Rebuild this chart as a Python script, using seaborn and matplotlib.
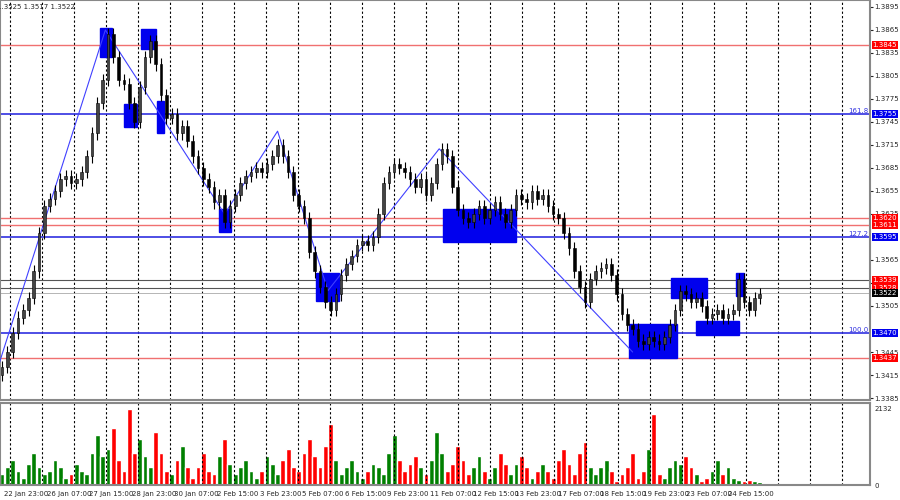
import matplotlib
matplotlib.use("Agg")
import matplotlib.pyplot as plt
import seaborn as sns
import numpy as np
import pandas as pd

# closes in pips above 1.3400, one per 4h candle
close_pips = [25, 45, 70, 90, 100, 115, 150, 200, 235, 245, 255, 270, 275, 265, 270, 280,
              300, 330, 370, 400, 460, 430, 400, 395, 370, 345, 390, 430, 450, 420, 380, 350,
              355, 330, 340, 320, 300, 285, 270, 260, 240, 250, 215, 235, 250, 265, 275, 280,
              285, 280, 290, 300, 315, 300, 280, 250, 235, 220, 175, 150, 130, 110, 100, 120,
              145, 160, 170, 185, 190, 185, 195, 225, 265, 280, 290, 285, 280, 270, 260, 270,
              250, 265, 290, 310, 300, 260, 230, 220, 215, 225, 235, 220, 230, 240, 225, 215,
              230, 250, 245, 240, 255, 245, 250, 235, 225, 220, 200, 180, 150, 130, 110, 140,
              150, 155, 160, 145, 120, 95, 80, 75, 60, 55, 65, 60, 55, 65, 80, 100,
              125, 120, 110, 115, 105, 90, 95, 100, 90, 95, 100, 140, 110, 100, 115, 120]
volumes = [300, 500, 700, 400, 200, 600, 900, 500, 300, 400, 700, 500, 200, 300, 600, 400,
           300, 900, 1400, 800, 1000, 1600, 700, 400, 2132, 900, 1300, 800, 500, 1500, 900, 400,
           300, 700, 1100, 500, 200, 500, 900, 400, 300, 800, 1300, 600, 300, 500, 700, 400,
           200, 400, 800, 600, 300, 700, 1000, 500, 400, 900, 1300, 800, 500, 1100, 1700, 700,
           300, 500, 700, 400, 200, 400, 600, 500, 300, 900, 1400, 700, 400, 600, 800, 500,
           300, 700, 1500, 900, 400, 600, 1100, 700, 300, 500, 800, 400, 200, 500, 900, 600,
           300, 600, 800, 500, 200, 400, 600, 400, 200, 700, 1000, 600, 300, 900, 1200, 500,
           300, 500, 700, 400, 100, 300, 500, 900, 200, 400, 1000, 2000, 300, 200, 500, 700,
           600, 800, 500, 300, 100, 200, 400, 700, 300, 500, 200, 150, 100, 150, 100, 80]
date_labels = ["22 Jan 23:00", "26 Jan 07:00", "27 Jan 15:00", "28 Jan 23:00", "30 Jan 07:00",
               "2 Feb 15:00", "3 Feb 23:00", "5 Feb 07:00", "6 Feb 15:00", "9 Feb 23:00",
               "11 Feb 07:00", "12 Feb 15:00", "13 Feb 23:00", "17 Feb 07:00", "18 Feb 15:00",
               "19 Feb 23:00", "23 Feb 07:00", "24 Feb 15:00"]
blue_levels = [1.3755, 1.3595, 1.3470]
blue_names = ["161.8", "127.2", "100.0"]
red_levels = [1.3845, 1.3620, 1.3611, 1.3437]
dark_levels = [1.3539, 1.3528]
last_price = 1.3522
price_ticks = [1.3895, 1.3865, 1.3835, 1.3805, 1.3775, 1.3745, 1.3715, 1.3685, 1.3655,
               1.3625, 1.3565, 1.3535, 1.3505, 1.3445, 1.3415, 1.3385]
# zigzag: (candle index, price)
zig_idx = [-1, 19.5, 42, 52, 61.5, 82.5, 119]
zig_price = [1.3420, 1.3865, 1.3625, 1.3733, 1.3525, 1.3710, 1.3445]
# blue zones: (i0, i1, p_low, p_high)
boxes = [(18.5, 20.8, 1.3830, 1.3867), (26.3, 29, 1.3840, 1.3866), (23, 25.5, 1.3738, 1.3768),
         (29.2, 30.5, 1.3730, 1.3772), (41, 43.2, 1.3601, 1.3632), (59.3, 63.5, 1.3512, 1.3548),
         (83.3, 97, 1.3589, 1.3632), (118.3, 127.3, 1.3437, 1.3482), (126.3, 133, 1.3515, 1.3541),
         (131, 139, 1.3467, 1.3485), (138.5, 140, 1.3518, 1.3548)]

closes = 1.34 + np.array(close_pips) / 10000
opens = np.r_[closes[0] - 0.0010, closes[:-1]]
highs = np.maximum(opens, closes) + 0.0008
lows = np.minimum(opens, closes) - 0.0008
n = len(closes)
idx = np.arange(n)
df = pd.DataFrame({"i": idx, "o": opens, "c": closes, "h": highs, "l": lows, "v": volumes})

sns.set_style("white")
fig = plt.figure(figsize=(9, 5), dpi=100)
ax = fig.add_axes([0, 0.2, 0.9667, 0.8])
axv = fig.add_axes([0, 0.03, 0.9667, 0.164])
xl = (-0.38, 163.8)
for a in (ax, axv):
    a.set_xlim(*xl)
    for gx in np.arange(10, 870, 32):
        a.axvline(gx / 5.3 - 0.38, color="black", ls=(0, (2, 2)), lw=0.8)
    for s in a.spines.values():
        s.set_color("#888888")
        s.set_linewidth(1.5)
ax.set_ylim(1.33824, 1.39041)

for lv in red_levels:
    ax.axhline(lv, color="#f07070", lw=1)
for lv in dark_levels:
    ax.axhline(lv, color="#555555", lw=0.8)
ax.axhline(last_price, color="#aaaaaa", lw=0.6)
for lv, nm in zip(blue_levels, blue_names):
    ax.axhline(lv, color="#3030e0", lw=1.2)
    ax.text(163.5, lv, nm, color="#3030e0", fontsize=5, ha="right", va="bottom")

for (i0, i1, p0, p1) in boxes:
    ax.add_patch(plt.Rectangle((i0, p0), i1 - i0, p1 - p0, color="#0000ee", zorder=2))

sns.lineplot(x=zig_idx, y=zig_price, ax=ax, color="#4040ff", lw=0.8, sort=False, zorder=3)

ax.vlines(df.i, df.l, df.h, color="black", lw=0.8, zorder=4)
up = df.c >= df.o
ax.bar(df.i[up], (df.c - df.o)[up], bottom=df.o[up], width=0.5, color="#444444",
       edgecolor="black", lw=0.4, zorder=5)
ax.bar(df.i[~up], (df.o - df.c)[~up], bottom=df.c[~up], width=0.5, color="black",
       edgecolor="black", lw=0.4, zorder=5)

vcol = np.where(up, "#008000", "#ff0000")
axv.bar(df.i, df.v, width=0.9, color=vcol)
axv.set_ylim(0, 2300)

ax.yaxis.tick_right()
ax.set_yticks(price_ticks)
ax.set_yticklabels([f"{t:.4f}" for t in price_ticks], fontsize=5)
ax.tick_params(axis="y", length=2, pad=1, direction="out")
ax.set_xticks([])
axv.yaxis.tick_right()
axv.set_yticks([0, 2132])
axv.set_yticklabels(["0", "2132"], fontsize=5)
axv.tick_params(axis="y", length=0, pad=3)
axv.set_xticks([])
for k, t in enumerate(date_labels):
    fig.text((4 + 42.6 * k) / 900, 0.012, t, fontsize=5, ha="left", va="center")

def lab(a, y, txt, bg, fg="white"):
    a.text(1.003, y, txt, transform=a.get_yaxis_transform(), fontsize=5, color=fg,
           va="center", ha="left", bbox=dict(boxstyle="square,pad=0.15", fc=bg, ec="none"))
for lv in red_levels:
    lab(ax, lv, f"{lv:.4f}", "#ff0000")
for lv in blue_levels:
    lab(ax, lv, f"{lv:.4f}", "#0000ee")
for lv in dark_levels:
    lab(ax, lv, f"{lv:.4f}", "#ff0000")
lab(ax, last_price, f"{last_price:.4f}", "black")

ax.text(-0.004, 0.99, "1.3525 1.3517 1.3522", transform=ax.transAxes, fontsize=5,
        va="top", ha="left")
fig.savefig("out.png", dpi=100)
